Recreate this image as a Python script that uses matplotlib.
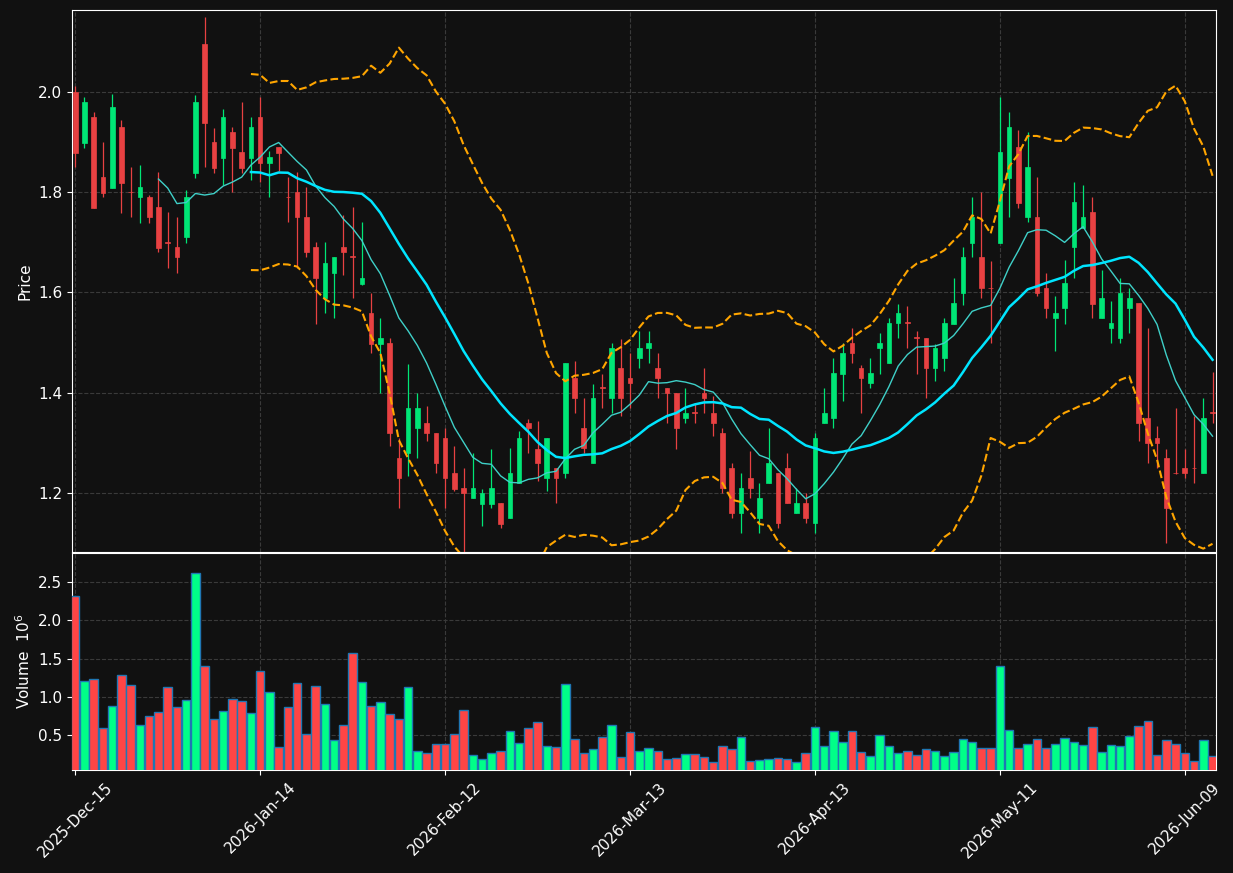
import numpy as np
import pandas as pd
import matplotlib
matplotlib.use("Agg")
import matplotlib.pyplot as plt
from matplotlib.patches import Rectangle

# OHLC values (one trading day per entry)
opens = [2.000, 1.899, 1.950, 1.830, 1.809, 1.930, 1.801, 1.790, 1.790, 1.771,
         1.700, 1.691, 1.710, 1.839, 2.096, 1.900, 1.869, 1.920, 1.880, 1.869,
         1.950, 1.859, 1.890, 1.791, 1.801, 1.750, 1.691, 1.589, 1.638, 1.691,
         1.672, 1.617, 1.559, 1.498, 1.499, 1.269, 1.279, 1.329, 1.339, 1.320,
         1.309, 1.239, 1.210, 1.189, 1.178, 1.178, 1.180, 1.149, 1.219, 1.339,
         1.288, 1.229, 1.249, 1.239, 1.429, 1.329, 1.259, 1.410, 1.389, 1.449,
         1.429, 1.469, 1.489, 1.449, 1.409, 1.399, 1.349, 1.361, 1.399, 1.360,
         1.320, 1.249, 1.159, 1.229, 1.149, 1.219, 1.239, 1.249, 1.159, 1.180,
         1.139, 1.339, 1.349, 1.438, 1.499, 1.449, 1.419, 1.489, 1.459, 1.539,
         1.540, 1.510, 1.509, 1.449, 1.469, 1.537, 1.598, 1.699, 1.671, 1.609,
         1.699, 1.829, 1.890, 1.750, 1.750, 1.608, 1.549, 1.569, 1.690, 1.729,
         1.761, 1.549, 1.529, 1.509, 1.569, 1.579, 1.349, 1.309, 1.269, 1.240,
         1.249, 1.250, 1.239, 1.361]
highs = [2.012, 1.990, 1.960, 1.900, 1.997, 1.945, 1.850, 1.854, 1.794, 1.840,
         1.760, 1.750, 1.804, 1.995, 2.149, 1.929, 1.966, 1.930, 1.980, 1.950,
         1.990, 1.883, 1.890, 1.830, 1.840, 1.810, 1.700, 1.700, 1.671, 1.754,
         1.770, 1.740, 1.599, 1.549, 1.509, 1.309, 1.457, 1.399, 1.374, 1.320,
         1.329, 1.294, 1.249, 1.279, 1.208, 1.288, 1.180, 1.289, 1.323, 1.348,
         1.343, 1.309, 1.249, 1.459, 1.464, 1.389, 1.418, 1.438, 1.499, 1.508,
         1.479, 1.524, 1.524, 1.479, 1.409, 1.399, 1.409, 1.379, 1.449, 1.394,
         1.329, 1.259, 1.239, 1.283, 1.219, 1.329, 1.239, 1.279, 1.209, 1.199,
         1.320, 1.409, 1.469, 1.500, 1.529, 1.455, 1.469, 1.519, 1.549, 1.578,
         1.573, 1.524, 1.509, 1.497, 1.549, 1.629, 1.690, 1.790, 1.800, 1.662,
         1.990, 1.960, 1.924, 1.920, 1.830, 1.638, 1.594, 1.664, 1.820, 1.815,
         1.790, 1.645, 1.584, 1.629, 1.608, 1.579, 1.529, 1.334, 1.288, 1.369,
         1.288, 1.354, 1.389, 1.441]
lows = [1.851, 1.889, 1.769, 1.790, 1.809, 1.759, 1.750, 1.739, 1.739, 1.680,
        1.648, 1.638, 1.699, 1.829, 1.850, 1.839, 1.815, 1.801, 1.839, 1.824,
        1.820, 1.790, 1.843, 1.740, 1.649, 1.670, 1.538, 1.559, 1.549, 1.634,
        1.589, 1.614, 1.479, 1.399, 1.294, 1.170, 1.234, 1.269, 1.304, 1.239,
        1.170, 1.204, 1.075, 1.189, 1.134, 1.169, 1.129, 1.149, 1.219, 1.279,
        1.224, 1.204, 1.180, 1.229, 1.359, 1.279, 1.259, 1.369, 1.359, 1.354,
        1.369, 1.449, 1.459, 1.389, 1.339, 1.288, 1.339, 1.339, 1.359, 1.314,
        1.199, 1.149, 1.120, 1.189, 1.120, 1.219, 1.129, 1.180, 1.159, 1.139,
        1.120, 1.339, 1.329, 1.384, 1.459, 1.359, 1.409, 1.438, 1.459, 1.509,
        1.489, 1.438, 1.389, 1.424, 1.444, 1.537, 1.575, 1.670, 1.589, 1.499,
        1.699, 1.750, 1.769, 1.740, 1.594, 1.549, 1.484, 1.538, 1.629, 1.729,
        1.549, 1.549, 1.499, 1.499, 1.519, 1.304, 1.259, 1.249, 1.099, 1.238,
        1.229, 1.219, 1.239, 1.339]
closes = [1.879, 1.980, 1.769, 1.799, 1.970, 1.819, 1.800, 1.810, 1.750, 1.689,
          1.699, 1.670, 1.790, 1.980, 1.938, 1.849, 1.950, 1.889, 1.849, 1.930,
          1.859, 1.871, 1.879, 1.790, 1.750, 1.680, 1.628, 1.659, 1.671, 1.680,
          1.671, 1.629, 1.498, 1.509, 1.319, 1.229, 1.369, 1.369, 1.319, 1.259,
          1.229, 1.208, 1.199, 1.210, 1.199, 1.210, 1.138, 1.239, 1.309, 1.329,
          1.259, 1.309, 1.229, 1.459, 1.389, 1.289, 1.389, 1.409, 1.489, 1.389,
          1.419, 1.489, 1.499, 1.429, 1.399, 1.329, 1.360, 1.360, 1.389, 1.339,
          1.209, 1.159, 1.209, 1.209, 1.189, 1.259, 1.139, 1.180, 1.180, 1.149,
          1.309, 1.360, 1.439, 1.479, 1.479, 1.429, 1.439, 1.499, 1.539, 1.559,
          1.539, 1.509, 1.449, 1.490, 1.539, 1.579, 1.671, 1.750, 1.608, 1.608,
          1.880, 1.930, 1.779, 1.850, 1.598, 1.569, 1.559, 1.619, 1.780, 1.750,
          1.578, 1.590, 1.539, 1.599, 1.590, 1.339, 1.299, 1.299, 1.169, 1.239,
          1.239, 1.249, 1.349, 1.360]
# volume in millions
volumes = [2.317, 1.206, 1.232, 0.592, 0.883, 1.285, 1.154, 0.631, 0.748, 0.801,
           1.132, 0.866, 0.958, 2.618, 1.403, 0.709, 0.814, 0.971, 0.944, 0.788,
           1.337, 1.062, 0.343, 0.866, 1.180, 0.514, 1.141, 0.905, 0.435, 0.631,
           1.572, 1.193, 0.879, 0.931, 0.775, 0.709, 1.127, 0.291, 0.265, 0.383,
           0.383, 0.514, 0.827, 0.239, 0.186, 0.265, 0.291, 0.552, 0.396, 0.592,
           0.670, 0.356, 0.343, 1.167, 0.448, 0.265, 0.317, 0.475, 0.631, 0.221,
           0.540, 0.291, 0.330, 0.291, 0.186, 0.199, 0.252, 0.252, 0.212, 0.147,
           0.356, 0.317, 0.475, 0.160, 0.173, 0.186, 0.199, 0.186, 0.147, 0.265,
           0.605, 0.356, 0.552, 0.409, 0.552, 0.278, 0.226, 0.500, 0.356, 0.265,
           0.291, 0.239, 0.317, 0.291, 0.226, 0.278, 0.448, 0.409, 0.330, 0.330,
           1.403, 0.566, 0.330, 0.383, 0.448, 0.330, 0.383, 0.461, 0.409, 0.370,
           0.605, 0.278, 0.370, 0.356, 0.487, 0.618, 0.683, 0.239, 0.435, 0.383,
           0.265, 0.160, 0.435, 0.226]
tick_pos = [0, 20, 40, 60, 80, 100, 120]
tick_labels = ["2025-Dec-15", "2026-Jan-14", "2026-Feb-12", "2026-Mar-13",
               "2026-Apr-13", "2026-May-11", "2026-Jun-09"]

BG = "#111111"
UP, DOWN = "#00e676", "#e84142"
VUP, VDOWN = "#00ff88", "#ff4545"

o = np.array(opens)
h = np.array(highs)
l = np.array(lows)
c = np.array(closes)
v = np.array(volumes)
x = np.arange(len(c))
up = c >= o

cs = pd.Series(c)
ma10 = cs.rolling(10).mean()
ma20 = cs.rolling(20).mean()
sd20 = cs.rolling(20).std()
bb_up = ma20 + 2 * sd20
bb_lo = ma20 - 2 * sd20

fig = plt.figure(figsize=(12.33, 8.73), dpi=100, facecolor=BG)
ax = fig.add_axes([0.0584, 0.3677, 0.928, 0.6209], facecolor=BG)
axv = fig.add_axes([0.0584, 0.118, 0.928, 0.2486], facecolor=BG, sharex=ax)

# candles
w = 0.5
for i in x:
    col = UP if up[i] else DOWN
    ax.vlines(i, l[i], h[i], color=col, linewidth=0.9, zorder=3)
    bot = min(o[i], c[i])
    hgt = max(abs(c[i] - o[i]), 0.0015)
    ax.add_patch(Rectangle((i - w / 2, bot), w, hgt, facecolor=col,
                           edgecolor=col, linewidth=0.5, zorder=4))

ax.plot(x, ma10, color="#3fd0c8", linewidth=1.0, zorder=5)
ax.plot(x, ma20, color="#00e5ff", linewidth=1.8, zorder=5)
ax.plot(x, bb_up, color="#ffa500", linewidth=1.5, linestyle="--", zorder=5)
ax.plot(x, bb_lo, color="#ffa500", linewidth=1.5, linestyle="--", zorder=5)

# volume
axv.bar(x, v, width=0.92, color=np.where(up, VUP, VDOWN),
        edgecolor="#1f77b4", linewidth=1.0, zorder=3)

ax.set_xlim(-0.35, 123.4)
ax.set_ylim(1.082, 2.164)
axv.set_ylim(0.047, 2.88)
ax.set_yticks([1.2, 1.4, 1.6, 1.8, 2.0])
axv.set_yticks([0.5, 1.0, 1.5, 2.0, 2.5])
axv.set_xticks(tick_pos)
axv.set_xticklabels(tick_labels, rotation=45)
plt.setp(ax.get_xticklabels(), visible=False)

for a in (ax, axv):
    a.grid(True, color="#3a3a3a", linestyle="--", linewidth=0.8)
    a.set_axisbelow(True)
    for s in a.spines.values():
        s.set_color("white")
    a.tick_params(colors="white", labelsize=11)

ax.tick_params(axis="x", length=0)
ax.set_ylabel("Price", color="white", fontsize=11)
axv.set_ylabel("Volume  $10^{6}$", color="white", fontsize=11)

fig.savefig("out.png", dpi=100, facecolor=BG)
